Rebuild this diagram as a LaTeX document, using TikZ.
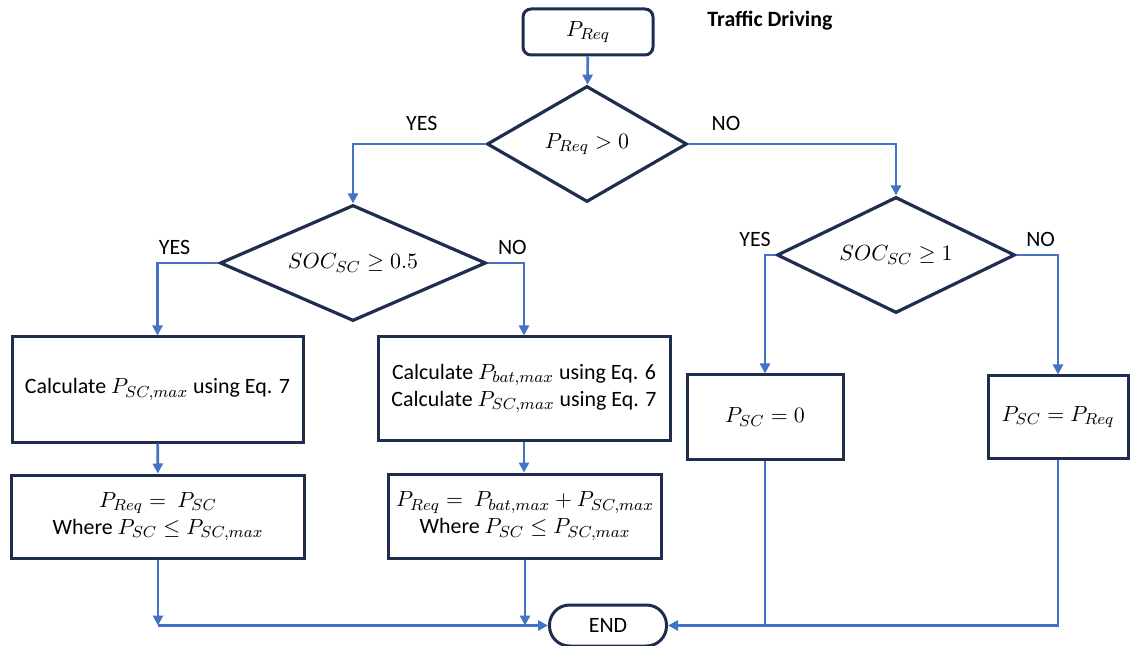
\documentclass[tikz,border=0pt,11pt]{standalone}
\usepackage{fontspec}
\setmainfont{Carlito}
\usetikzlibrary{shapes.geometric,arrows.meta}

\definecolor{boxnavy}{HTML}{1F2D4E}
\definecolor{flowblue}{HTML}{4472C4}

\tikzset{
  box/.style={draw=boxnavy, line width=1.5pt, align=center, inner sep=2pt},
  term/.style={box, rounded corners=4pt},
  decision/.style={draw=boxnavy, line width=1.6pt, diamond, aspect=2, inner sep=0pt},
  flow/.style={draw=flowblue, line width=1.3pt, -{Triangle[length=5pt,width=5pt]}},
  line/.style={draw=flowblue, line width=1.3pt},
  lbl/.style={above}
}

\begin{document}
\begin{tikzpicture}[x=0.5pt, y=-0.5pt]
  \useasboundingbox (0,0) rectangle (1134,646);

  \node (preq) [term, minimum width=65pt, minimum height=23pt] at (588,32) {$P_{Req}$};
  \node (title) [font=\bfseries] at (770,21) {Traffic Driving};

  \node (d1) [decision, minimum width=100pt, minimum height=58pt] at (587,144) {$P_{Req} > 0$};
  \node (d2) [decision, minimum width=133pt, minimum height=58pt] at (353,263) {$SOC_{SC} \geq 0.5$};
  \node (d3) [decision, minimum width=119pt, minimum height=58pt] at (896,255) {$SOC_{SC} \geq 1$};

  \node (calcsc)  [box, minimum width=145.5pt, minimum height=52.5pt] at (157.5,389.5)
    {Calculate $P_{SC,max}$ using Eq. 7};
  \node (calcbat) [box, minimum width=146pt, minimum height=51.5pt] at (524,388.5)
    {Calculate $P_{bat,max}$ using Eq. 6\\ Calculate $P_{SC,max}$ using Eq. 7};
  \node (psc0)    [box, minimum width=78pt, minimum height=42pt] at (765,417) {$P_{SC} = 0$};
  \node (pscreq)  [box, minimum width=70pt, minimum height=41pt] at (1058,417) {$P_{SC} = P_{Req}$};

  \node (reqsc)  [box, minimum width=146.5pt, minimum height=41.5pt] at (158,516.5)
    {$P_{Req} = \ P_{SC}$\\ Where $P_{SC} \leq P_{SC,max}$};
  \node (reqsum) [box, minimum width=136.5pt, minimum height=42pt] at (525,516)
    {$P_{Req} = \ P_{bat,max} + P_{SC,max}$\\ Where $P_{SC} \leq P_{SC,max}$};

  \node (end) [term, rounded corners=10pt, minimum width=58.5pt, minimum height=20.5pt] at (608,625.5) {END};

  \draw [flow] (preq) -- (d1);
  \draw [flow] (d1.west) -| node [lbl, pos=0.24, above=2.5pt] {YES} (d2.north);
  \draw [flow] (d1.east) -| node [lbl, pos=0.09, above=2.5pt] {NO} (d3.north);

  \draw [flow] (d2.west) -| node [lbl, pos=0.36] {YES} (calcsc.north);
  \draw [flow] (d2.east) -| node [lbl, pos=0.34] {NO} (calcbat.north);
  \draw [flow] (d3.west) -| node [lbl, pos=0.5, xshift=-5pt] {YES} (psc0.north);
  \draw [flow] (d3.east) -| node [lbl, pos=0.29] {NO} (pscreq.north);

  \draw [flow] (calcsc) -- (reqsc);
  \draw [flow] (calcbat.south) -- (calcbat.south |- reqsum.north);

  \coordinate (joinl) at (reqsc.south |- end.west);
  \draw [flow] (reqsc) -- (joinl);
  \draw [flow] (reqsum) -- (reqsum.south |- end.west);
  \draw [flow] (joinl) -- (end);
  \draw [line] (psc0) -- (psc0.south |- end.east);
  \draw [flow] (pscreq) |- (end);
\end{tikzpicture}
\end{document}
